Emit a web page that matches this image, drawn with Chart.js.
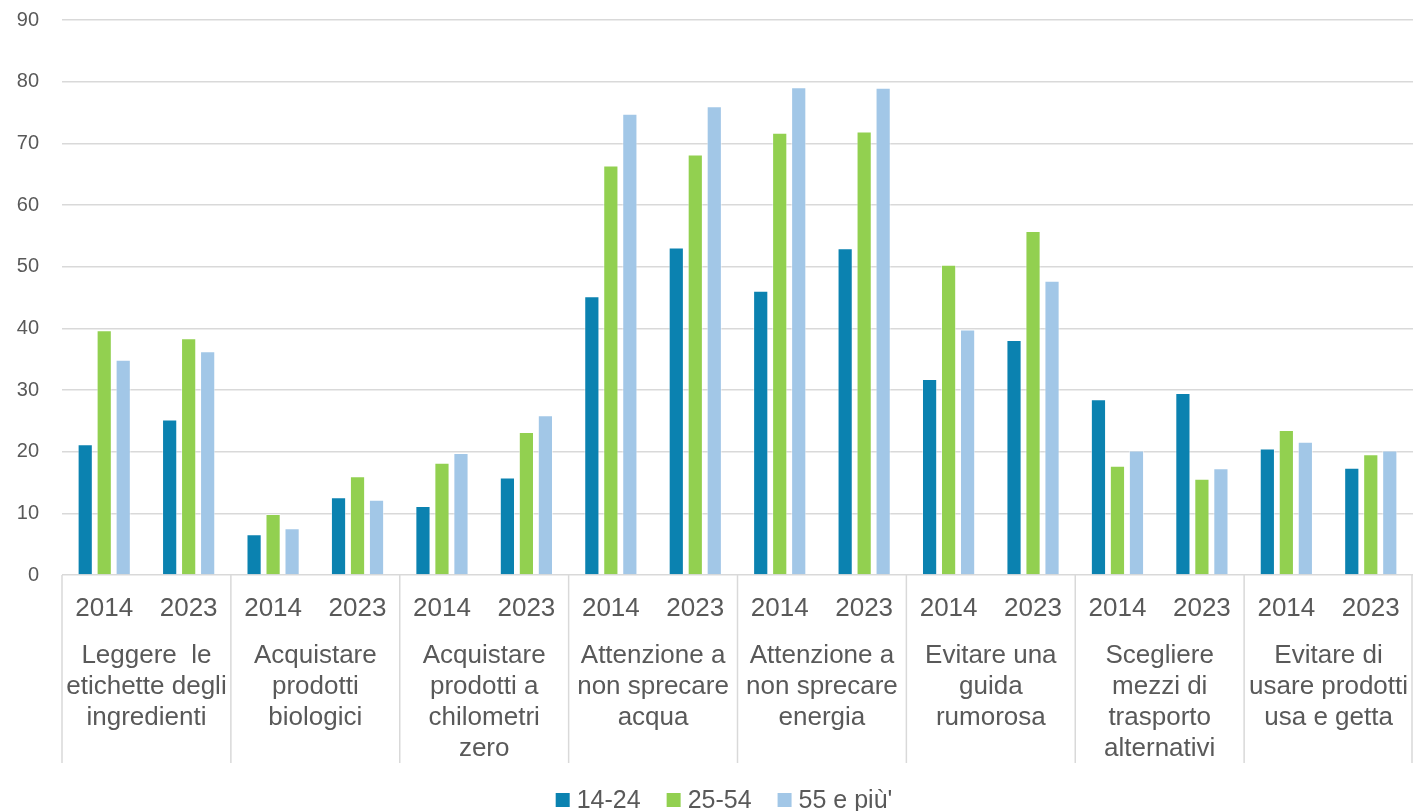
<!DOCTYPE html>
<html>
<head>
<meta charset="utf-8">
<script src="https://cdn.jsdelivr.net/npm/chart.js@4/dist/chart.umd.min.js"></script>
<style>
  html, body { margin: 0; padding: 0; background: #fff; overflow: hidden; }
  #wrap { width: 1413px; height: 811px; }
</style>
</head>
<body>
<div id="wrap"><canvas id="chart"></canvas></div>
<script>
const years = ["2014", "2023", "2014", "2023", "2014", "2023", "2014", "2023",
               "2014", "2023", "2014", "2023", "2014", "2023", "2014", "2023"];
const groups = [
    ["Leggere  le", "etichette degli", "ingredienti"],
    ["Acquistare", "prodotti", "biologici"],
    ["Acquistare", "prodotti a", "chilometri", "zero"],
    ["Attenzione a", "non sprecare", "acqua"],
    ["Attenzione a", "non sprecare", "energia"],
    ["Evitare una", "guida", "rumorosa"],
    ["Scegliere", "mezzi di", "trasporto", "alternativi"],
    ["Evitare di", "usare prodotti", "usa e getta"]
];
const age1424 = [21.2, 25.2, 6.6, 12.6, 11.2, 15.8, 45.2, 53.1, 46.1, 53.0, 31.8, 38.1, 28.5, 29.5, 20.5, 17.4];
const age2554 = [39.7, 38.4, 9.9, 16.0, 18.2, 23.2, 66.4, 68.2, 71.7, 71.9, 50.3, 55.8, 17.7, 15.6, 23.5, 19.6];
const age55 = [34.9, 36.3, 7.6, 12.2, 19.8, 25.9, 74.8, 76.0, 79.1, 79.0, 39.8, 47.7, 20.2, 17.3, 21.6, 20.2];
const yMin = 0, yMax = 90, yStep = 10;

const textColor = "#595959";
const lineColor = "#d9d9d9";
const fontFamily = "'Liberation Sans', Arial, sans-serif";

// years, group names, separators and the legend under the plot
const multiLevelAxis = {
    id: "multiLevelAxis",
    afterDraw(chart) {
        const ctx = chart.ctx;
        const x = chart.scales.x;
        const bottom = chart.chartArea.bottom;
        const step = x.getPixelForValue(1) - x.getPixelForValue(0);
        ctx.save();
        ctx.fillStyle = textColor;
        ctx.textAlign = "center";
        ctx.textBaseline = "alphabetic";
        ctx.font = "26px " + fontFamily;
        years.forEach((y, i) => {
            ctx.fillText(y, x.getPixelForValue(i), 616);
        });
        groups.forEach((lines, g) => {
            const cx = (x.getPixelForValue(g * 2) + x.getPixelForValue(g * 2 + 1)) / 2;
            lines.forEach((t, k) => {
                ctx.fillText(t, cx, 663 + k * 31);
            });
        });
        ctx.strokeStyle = lineColor;
        ctx.lineWidth = 1.5;
        for (let g = 0; g <= groups.length; g++) {
            let px = x.getPixelForValue(g * 2) - step / 2;
            if (g === groups.length) px = Math.min(px, chart.width - 1);
            ctx.beginPath();
            ctx.moveTo(px, bottom);
            ctx.lineTo(px, 763);
            ctx.stroke();
        }

        // legend
        ctx.font = "25px " + fontFamily;
        ctx.textAlign = "left";
        const items = chart.data.datasets.map(ds => ({
            text: ds.label, color: ds.backgroundColor, w: 14 + 7 + ctx.measureText(ds.label).width
        }));
        const gap = 26;
        const total = items.reduce((s, it) => s + it.w, 0) + gap * (items.length - 1);
        let lx = 724 - total / 2;
        items.forEach(it => {
            ctx.fillStyle = it.color;
            ctx.fillRect(lx, 793, 14, 14);
            ctx.fillStyle = textColor;
            ctx.fillText(it.text, lx + 21, 808);
            lx += it.w + gap;
        });
        ctx.restore();
    }
};

new Chart(document.getElementById("chart"), {
    type: "bar",
    data: {
        labels: years,
        datasets: [
            { label: "14-24", data: age1424, backgroundColor: "#0B82B0" },
            { label: "25-54", data: age2554, backgroundColor: "#92D050" },
            { label: "55 e più'", data: age55, backgroundColor: "#A2C7E7" }
        ]
    },
    options: {
        responsive: true,
        maintainAspectRatio: false,
        animation: false,
        layout: { padding: { left: 0, right: 0, top: 20, bottom: 0 } },
        datasets: {
            bar: {
                categoryPercentage: 0.675,
                barPercentage: 0.8,
                borderWidth: 1,
                borderColor: "rgba(255,255,255,0.5)"
            }
        },
        plugins: {
            tooltip: { enabled: false },
            legend: { display: false }
        },
        scales: {
            x: {
                ticks: { display: false },
                grid: { display: false },
                border: { display: false },
                afterFit(scale) { scale.height = 236; }
            },
            y: {
                min: yMin,
                max: yMax,
                afterFit(scale) {
                    scale.width = 62;
                    // tick padding would otherwise push the plot top down
                    scale.paddingTop = 12;
                    scale.paddingBottom = 12;
                },
                ticks: {
                    stepSize: yStep,
                    padding: 23,
                    color: textColor,
                    font: { family: fontFamily, size: 20 }
                },
                grid: { color: lineColor, lineWidth: 1.5, drawTicks: false },
                border: { display: false }
            }
        }
    },
    plugins: [multiLevelAxis]
});
</script>
</body>
</html>
